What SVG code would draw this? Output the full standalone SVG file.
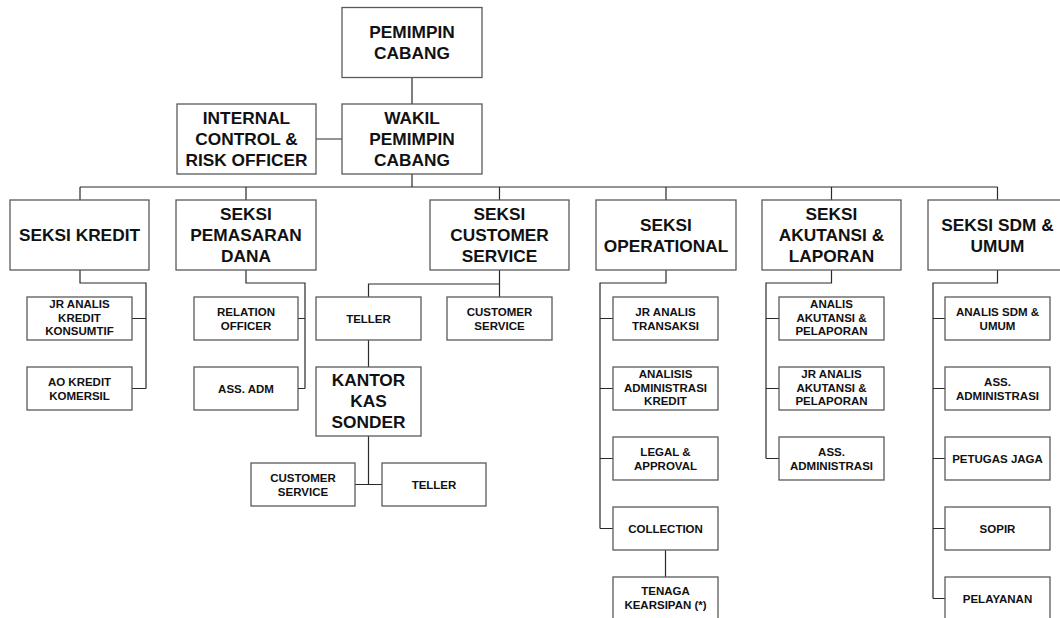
<svg xmlns="http://www.w3.org/2000/svg" width="1060" height="618" viewBox="0 0 1060 618">
<style>
rect.b{fill:#fff;stroke:#5a5a5a;stroke-width:1.3}
text{font-family:"Liberation Sans",Arial,sans-serif;font-weight:bold;fill:#111;text-anchor:middle}
.L{font-size:17.3px}
.S{font-size:11.5px}
#connectors path{fill:none;stroke:#2a2a2a;stroke-width:1.2}
</style>
<rect width="1060" height="618" fill="#fff"/>
<g id="connectors">
<path d="M412,77.5V104M316,139H342M412,174V187M80,187H997.5M80,187V200M246,187V200M499.5,187V200M666,187V200M831.5,187V200M997.5,187V200"/>
<path d="M80,270V283H146V388.5M132,318.5H146M132,388.5H146"/>
<path d="M246,270V283H305V388.5M298,318.5H305M298,388.5H305"/>
<path d="M499.5,270V297M368.5,297V284H499.5M368.5,340V367M368.5,436V484.5M355,484.5H382"/>
<path d="M666,270V283H600V528.5M600,318.5H613M600,388.5H613M600,458.5H613M600,528.5H613M665.5,550V577"/>
<path d="M831.5,270V283H766V458.5M766,318.5H779M766,388.5H779M766,458.5H779"/>
<path d="M997.5,270V283H933V598.5M933,318.5H945M933,388.5H945M933,458.5H945M933,528.5H945M933,598.5H945"/>
</g>
<g id="n-pemimpin"><rect class="b" x="342" y="7.5" width="140" height="70"/><text class="L" x="412" y="37.5">PEMIMPIN</text><text class="L" x="412" y="58.5">CABANG</text></g>
<g id="n-wakil"><rect class="b" x="342" y="104" width="140" height="70"/><text class="L" x="412" y="123.5">WAKIL</text><text class="L" x="412" y="144.5">PEMIMPIN</text><text class="L" x="412" y="165.5">CABANG</text></g>
<g id="n-internal"><rect class="b" x="177" y="104" width="139" height="70"/><text class="L" x="246.5" y="123.5">INTERNAL</text><text class="L" x="246.5" y="144.5">CONTROL &amp;</text><text class="L" x="246.5" y="165.5">RISK OFFICER</text></g>

<g id="n-seksi-kredit"><rect class="b" x="10" y="200" width="139" height="70"/><text class="L" x="79.5" y="240.5">SEKSI KREDIT</text></g>
<g id="n-seksi-pemasaran"><rect class="b" x="176" y="200" width="140" height="70"/><text class="L" x="246" y="219.5">SEKSI</text><text class="L" x="246" y="240.5">PEMASARAN</text><text class="L" x="246" y="261.5">DANA</text></g>
<g id="n-seksi-cs"><rect class="b" x="430" y="200" width="139" height="70"/><text class="L" x="499.5" y="219.5">SEKSI</text><text class="L" x="499.5" y="240.5">CUSTOMER</text><text class="L" x="499.5" y="261.5">SERVICE</text></g>
<g id="n-seksi-ops"><rect class="b" x="596" y="200" width="140" height="70"/><text class="L" x="666" y="230.5">SEKSI</text><text class="L" x="666" y="251.5">OPERATIONAL</text></g>
<g id="n-seksi-akt"><rect class="b" x="762" y="200" width="139" height="70"/><text class="L" x="831.5" y="219.5">SEKSI</text><text class="L" x="831.5" y="240.5">AKUTANSI &amp;</text><text class="L" x="831.5" y="261.5">LAPORAN</text></g>
<g id="n-seksi-sdm"><rect class="b" x="928" y="200" width="139" height="70"/><text class="L" x="997.5" y="230.5">SEKSI SDM &amp;</text><text class="L" x="997.5" y="251.5">UMUM</text></g>

<g id="n-jr-analis-kredit"><rect class="b" x="27" y="297" width="105" height="43"/><text class="S" x="79.5" y="307.8">JR ANALIS</text><text class="S" x="79.5" y="321.6">KREDIT</text><text class="S" x="79.5" y="335.4">KONSUMTIF</text></g>
<g id="n-ao-kredit"><rect class="b" x="27" y="367" width="105" height="43"/><text class="S" x="79.5" y="385.5">AO KREDIT</text><text class="S" x="79.5" y="399.5">KOMERSIL</text></g>

<g id="n-relation"><rect class="b" x="194" y="297" width="104" height="43"/><text class="S" x="246" y="315.5">RELATION</text><text class="S" x="246" y="329.5">OFFICER</text></g>
<g id="n-ass-adm"><rect class="b" x="194" y="367" width="104" height="43"/><text class="S" x="246" y="392.5">ASS. ADM</text></g>

<g id="n-teller"><rect class="b" x="316" y="297" width="105" height="43"/><text class="S" x="368.5" y="322.5">TELLER</text></g>
<g id="n-cs"><rect class="b" x="447" y="297" width="105" height="43"/><text class="S" x="499.5" y="315.5">CUSTOMER</text><text class="S" x="499.5" y="329.5">SERVICE</text></g>
<g id="n-kantor"><rect class="b" x="316" y="367" width="105" height="69"/><text class="L" x="368.5" y="386">KANTOR</text><text class="L" x="368.5" y="407">KAS</text><text class="L" x="368.5" y="428">SONDER</text></g>
<g id="n-kks-cs"><rect class="b" x="251" y="463" width="104" height="43"/><text class="S" x="303" y="481.5">CUSTOMER</text><text class="S" x="303" y="495.5">SERVICE</text></g>
<g id="n-kks-teller"><rect class="b" x="382" y="463" width="104" height="43"/><text class="S" x="434" y="488.5">TELLER</text></g>

<g id="n-jr-transaksi"><rect class="b" x="613" y="297" width="105" height="43"/><text class="S" x="665.5" y="315.5">JR ANALIS</text><text class="S" x="665.5" y="329.5">TRANSAKSI</text></g>
<g id="n-analisis-adm"><rect class="b" x="613" y="367" width="105" height="43"/><text class="S" x="665.5" y="377.8">ANALISIS</text><text class="S" x="665.5" y="391.6">ADMINISTRASI</text><text class="S" x="665.5" y="405.4">KREDIT</text></g>
<g id="n-legal"><rect class="b" x="613" y="437" width="105" height="43"/><text class="S" x="665.5" y="455.5">LEGAL &amp;</text><text class="S" x="665.5" y="469.5">APPROVAL</text></g>
<g id="n-collection"><rect class="b" x="613" y="507" width="105" height="43"/><text class="S" x="665.5" y="532.5">COLLECTION</text></g>
<g id="n-tenaga"><rect class="b" x="613" y="577" width="105" height="43"/><text class="S" x="665.5" y="595">TENAGA</text><text class="S" x="665.5" y="609">KEARSIPAN (*)</text></g>

<g id="n-analis-akt"><rect class="b" x="779" y="297" width="105" height="43"/><text class="S" x="831.5" y="307.8">ANALIS</text><text class="S" x="831.5" y="321.6">AKUTANSI &amp;</text><text class="S" x="831.5" y="335.4">PELAPORAN</text></g>
<g id="n-jr-analis-akt"><rect class="b" x="779" y="367" width="105" height="43"/><text class="S" x="831.5" y="377.8">JR ANALIS</text><text class="S" x="831.5" y="391.6">AKUTANSI &amp;</text><text class="S" x="831.5" y="405.4">PELAPORAN</text></g>
<g id="n-ass-administrasi-akt"><rect class="b" x="779" y="437" width="105" height="43"/><text class="S" x="831.5" y="455.5">ASS.</text><text class="S" x="831.5" y="469.5">ADMINISTRASI</text></g>

<g id="n-analis-sdm"><rect class="b" x="945" y="297" width="105" height="43"/><text class="S" x="997.5" y="315.5">ANALIS SDM &amp;</text><text class="S" x="997.5" y="329.5">UMUM</text></g>
<g id="n-ass-administrasi-sdm"><rect class="b" x="945" y="367" width="105" height="43"/><text class="S" x="997.5" y="385.5">ASS.</text><text class="S" x="997.5" y="399.5">ADMINISTRASI</text></g>
<g id="n-petugas"><rect class="b" x="945" y="437" width="105" height="43"/><text class="S" x="997.5" y="462.5">PETUGAS JAGA</text></g>
<g id="n-sopir"><rect class="b" x="945" y="507" width="105" height="43"/><text class="S" x="997.5" y="532.5">SOPIR</text></g>
<g id="n-pelayanan"><rect class="b" x="945" y="577" width="105" height="43"/><text class="S" x="997.5" y="602.5">PELAYANAN</text></g>
</svg>
